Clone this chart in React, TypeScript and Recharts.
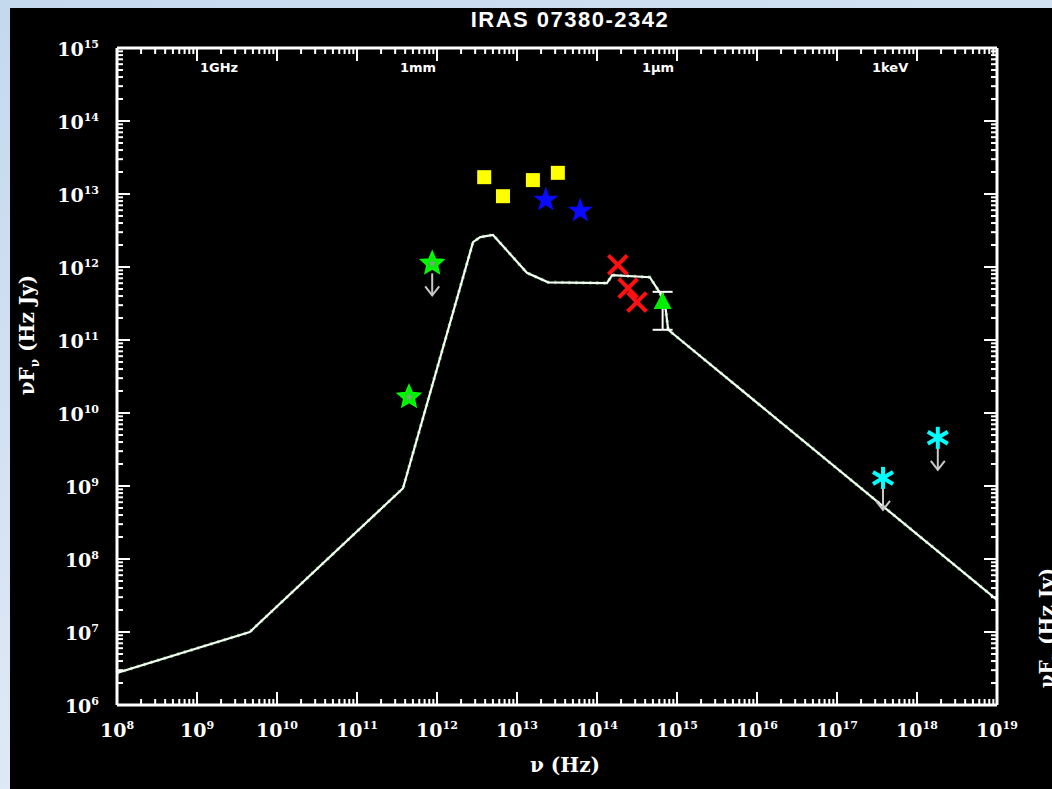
import React from "react";
import { ComposedChart, Line, Scatter, XAxis, YAxis, ErrorBar } from "recharts";

// model SED, νFν (Hz Jy) against ν (Hz)
const modelNu = [1e8, 4.57e9, 3.76e11, 2.82e12, 3.47e12, 5.01e12, 1.33e13, 2.45e13, 1.33e14, 1.55e14, 4.57e14, 6.17e14, 7.24e14, 7.76e14, 1e19];
const modelFlux = [2.75e6, 1.0e7, 9.33e8, 2.19e12, 2.57e12, 2.75e12, 8.32e11, 6.17e11, 6.03e11, 7.76e11, 7.24e11, 4.37e11, 2.57e11, 1.38e11, 2.75e7];

// photometry
const farIrNu = [3.89e12, 6.68e12, 1.58e13, 3.24e13];
const farIrFlux = [1.7e13, 9.33e12, 1.55e13, 1.95e13];

const midIrNu = [2.29e13, 6.17e13];
const midIrFlux = [8.32e12, 5.89e12];

const radioNu = [8.71e11, 4.47e11];
const radioFlux = [1.12e12, 1.66e10];
const radioLimit = [true, false];

const nearIrNu = [1.82e14, 2.45e14, 3.16e14];
const nearIrFlux = [1.07e12, 5.13e11, 3.31e11];

const opticalNu = [6.61e14];
const opticalFlux = [3.31e11];
const opticalErr = [[1.93e11, 1.26e11]];

const xrayNu = [3.76e17, 1.82e18];
const xrayFlux = [1.29e9, 4.57e9];
const xrayLimit = [true, true];

// axis decades (exponents)
const nuDecades = [8, 9, 10, 11, 12, 13, 14, 15, 16, 17, 18, 19];
const fluxDecades = [6, 7, 8, 9, 10, 11, 12, 13, 14, 15];

// top-axis reference marks
const topMarks = [
  { label: "1GHz", x: 200 },
  { label: "1mm", x: 400 },
  { label: "1μm", x: 642 },
  { label: "1keV", x: 872 },
];

const modelData = modelNu.map((nu, i) => ({ nu, flux: modelFlux[i] }));
const farIrData = farIrNu.map((nu, i) => ({ nu, flux: farIrFlux[i] }));
const midIrData = midIrNu.map((nu, i) => ({ nu, flux: midIrFlux[i] }));
const radioData = radioNu.map((nu, i) => ({ nu, flux: radioFlux[i], limit: radioLimit[i] }));
const nearIrData = nearIrNu.map((nu, i) => ({ nu, flux: nearIrFlux[i] }));
const opticalData = opticalNu.map((nu, i) => ({ nu, flux: opticalFlux[i], err: opticalErr[i] }));
const xrayData = xrayNu.map((nu, i) => ({ nu, flux: xrayFlux[i], limit: xrayLimit[i] }));

const withMinor = (decades: number[]) => {
  const out: number[] = [];
  decades.forEach((d, i) => {
    out.push(Math.pow(10, d));
    if (i < decades.length - 1) {
      for (let m = 2; m <= 9; m++) out.push(m * Math.pow(10, d));
    }
  });
  return out;
};
const nuTicks = withMinor(nuDecades);
const fluxTicks = withMinor(fluxDecades);

const exponentOf = (v: number) => {
  const l = Math.log10(v);
  const r = Math.round(l);
  return Math.abs(l - r) < 1e-6 ? r : null;
};

const W = 1052;
const H = 789;
const LABEL_FONT = "'DejaVu Serif', serif";
const MAJOR = 13;
const MINOR = 6;

const BottomTick = (props: any) => {
  const { x, y, payload } = props;
  const e = exponentOf(payload.value);
  return (
    <g>
      <line x1={x} y1={y} x2={x} y2={y - (e !== null ? MAJOR : MINOR)} stroke="#fff" strokeWidth={2} />
      {e !== null && (
        <text x={x} y={y + 32} textAnchor="middle" fill="#fff" fontFamily={LABEL_FONT} fontWeight="bold" fontSize={19}>
          10<tspan dy={-8} fontSize={11}>{e}</tspan>
        </text>
      )}
    </g>
  );
};

const TopTick = (props: any) => {
  const { x, y, payload } = props;
  const e = exponentOf(payload.value);
  return <line x1={x} y1={y} x2={x} y2={y + (e !== null ? MAJOR : MINOR)} stroke="#fff" strokeWidth={2} />;
};

const LeftTick = (props: any) => {
  const { x, y, payload } = props;
  const e = exponentOf(payload.value);
  return (
    <g>
      <line x1={x} y1={y} x2={x + (e !== null ? MAJOR : MINOR)} y2={y} stroke="#fff" strokeWidth={2} />
      {e !== null && (
        <text x={x - 18} y={y + 8} textAnchor="end" fill="#fff" fontFamily={LABEL_FONT} fontWeight="bold" fontSize={19}>
          10<tspan dy={-8} fontSize={11}>{e}</tspan>
        </text>
      )}
    </g>
  );
};

const RightTick = (props: any) => {
  const { x, y, payload } = props;
  const e = exponentOf(payload.value);
  return <line x1={x} y1={y} x2={x - (e !== null ? MAJOR : MINOR)} y2={y} stroke="#fff" strokeWidth={2} />;
};

const starPath = (cx: number, cy: number, ro: number, ri: number) => {
  let d = "";
  for (let k = 0; k < 10; k++) {
    const r = k % 2 === 0 ? ro : ri;
    const a = -Math.PI / 2 + (k * Math.PI) / 5;
    d += `${k === 0 ? "M" : "L"}${cx + r * Math.cos(a)},${cy + r * Math.sin(a)}`;
  }
  return d + "Z";
};

const LimitArrow = ({ cx, cy }: { cx: number; cy: number }) => (
  <g stroke="#c8c8c8" strokeWidth={2} fill="none">
    <line x1={cx} y1={cy + 10} x2={cx} y2={cy + 32} />
    <polyline points={`${cx - 7},${cy + 23} ${cx},${cy + 32} ${cx + 7},${cy + 23}`} />
  </g>
);

const SquareShape = (p: any) => <rect x={p.cx - 7} y={p.cy - 7} width={14} height={14} fill="#ffff00" />;

const BlueStar = (p: any) => (
  <path d={starPath(p.cx, p.cy, 11, 4.5)} fill="#0a0aff" stroke="#0a0aff" strokeWidth={1.5} />
);

const GreenStar = (p: any) => (
  <g>
    {p.payload.limit && <LimitArrow cx={p.cx} cy={p.cy} />}
    <path d={starPath(p.cx, p.cy, 12, 5.5)} fill="#00ee00" stroke="#00ff00" strokeWidth={1.5} />
    <path d={starPath(p.cx, p.cy, 4, 1.8)} fill="#7aa87a" />
  </g>
);

const RedCross = (p: any) => (
  <g stroke="#ff1010" strokeWidth={4} strokeLinecap="square">
    <line x1={p.cx - 8} y1={p.cy - 8} x2={p.cx + 8} y2={p.cy + 8} />
    <line x1={p.cx - 8} y1={p.cy + 8} x2={p.cx + 8} y2={p.cy - 8} />
  </g>
);

const GreenTriangle = (p: any) => (
  <path d={`M${p.cx},${p.cy - 10} L${p.cx + 9},${p.cy + 7} L${p.cx - 9},${p.cy + 7} Z`} fill="#00ee00" />
);

const CyanAsterisk = (p: any) => (
  <g>
    {p.payload.limit && <LimitArrow cx={p.cx} cy={p.cy} />}
    <g stroke="#00ffff" strokeWidth={4}>
      <line x1={p.cx} y1={p.cy - 11} x2={p.cx} y2={p.cy + 11} />
      <line x1={p.cx - 10} y1={p.cy - 6} x2={p.cx + 10} y2={p.cy + 6} />
      <line x1={p.cx - 10} y1={p.cy + 6} x2={p.cx + 10} y2={p.cy - 6} />
    </g>
  </g>
);

export default function App() {
  return (
    <div style={{ position: "absolute", left: 0, top: 0, width: W, height: H, background: "#000", overflow: "hidden" }}>
      <ComposedChart width={W} height={H} margin={{ top: 28, right: 35, bottom: 54, left: 57 }}>
        <XAxis
          xAxisId="bottom"
          dataKey="nu"
          type="number"
          scale="log"
          domain={[1e8, 1e19]}
          allowDataOverflow
          ticks={nuTicks}
          interval={0}
          height={30}
          tickSize={0}
          tickMargin={0}
          tick={<BottomTick />}
          axisLine={{ stroke: "#fff", strokeWidth: 3 }}
        />
        <XAxis
          xAxisId="top"
          orientation="top"
          dataKey="nu"
          type="number"
          scale="log"
          domain={[1e8, 1e19]}
          allowDataOverflow
          ticks={nuTicks}
          interval={0}
          height={20}
          tickSize={0}
          tickMargin={0}
          tick={<TopTick />}
          axisLine={{ stroke: "#fff", strokeWidth: 3 }}
        />
        <YAxis
          yAxisId="left"
          dataKey="flux"
          type="number"
          scale="log"
          domain={[1e6, 1e15]}
          allowDataOverflow
          ticks={fluxTicks}
          interval={0}
          width={60}
          tickSize={0}
          tickMargin={0}
          tick={<LeftTick />}
          axisLine={{ stroke: "#fff", strokeWidth: 3 }}
        />
        <YAxis
          yAxisId="right"
          orientation="right"
          dataKey="flux"
          type="number"
          scale="log"
          domain={[1e6, 1e15]}
          allowDataOverflow
          ticks={fluxTicks}
          interval={0}
          width={20}
          tickSize={0}
          tickMargin={0}
          tick={<RightTick />}
          axisLine={{ stroke: "#fff", strokeWidth: 3 }}
        />

        <Line xAxisId="bottom" yAxisId="left" data={modelData} dataKey="flux" type="linear" dot={false}
          stroke="#3c8c3c" strokeWidth={3.6} strokeDasharray="2 5" isAnimationActive={false} />
        <Line xAxisId="bottom" yAxisId="left" data={modelData} dataKey="flux" type="linear" dot={false}
          stroke="#f4fff4" strokeWidth={2.2} isAnimationActive={false} />

        <Scatter xAxisId="bottom" yAxisId="left" data={farIrData} dataKey="flux" shape={SquareShape} isAnimationActive={false} />
        <Scatter xAxisId="bottom" yAxisId="left" data={midIrData} dataKey="flux" shape={BlueStar} isAnimationActive={false} />
        <Scatter xAxisId="bottom" yAxisId="left" data={radioData} dataKey="flux" shape={GreenStar} isAnimationActive={false} />
        <Scatter xAxisId="bottom" yAxisId="left" data={nearIrData} dataKey="flux" shape={RedCross} isAnimationActive={false} />
        <Scatter xAxisId="bottom" yAxisId="left" data={opticalData} dataKey="flux" shape={GreenTriangle} isAnimationActive={false}>
          <ErrorBar dataKey="err" direction="y" width={10} stroke="#fff" strokeWidth={2} />
        </Scatter>
        <Scatter xAxisId="bottom" yAxisId="left" data={xrayData} dataKey="flux" shape={CyanAsterisk} isAnimationActive={false} />
      </ComposedChart>

      <svg width={W} height={H} style={{ position: "absolute", left: 0, top: 0, pointerEvents: "none" }}>
        <text x={570} y={27} textAnchor="middle" fill="#fff" fontFamily="'Liberation Sans', sans-serif"
          fontWeight="bold" fontSize={22} letterSpacing={1.5}>
          IRAS 07380-2342
        </text>
        {topMarks.map((m) => (
          <text key={m.label} x={m.x} y={72} fill="#fff" fontFamily="'DejaVu Sans', sans-serif" fontWeight="bold" fontSize={13}>
            {m.label}
          </text>
        ))}
        <text x={565} y={772} textAnchor="middle" fill="#fff" fontFamily={LABEL_FONT} fontWeight="bold" fontSize={20}>
          ν (Hz)
        </text>
        <text transform="translate(34 335) rotate(-90)" textAnchor="middle" fill="#fff" fontFamily={LABEL_FONT} fontWeight="bold" fontSize={20}>
          νF<tspan dy={5} fontSize={12}>ν</tspan><tspan dy={-5}> (Hz Jy)</tspan>
        </text>
        <text transform="translate(1054 628) rotate(-90)" textAnchor="middle" fill="#fff" fontFamily={LABEL_FONT} fontWeight="bold" fontSize={20}>
          νF<tspan dy={5} fontSize={12}>ν</tspan><tspan dy={-5}> (Hz Jy)</tspan>
        </text>
      </svg>

      <div style={{ position: "absolute", left: 0, top: 0, width: W, height: 8, background: "linear-gradient(90deg, #c4d8ee, #d3e2f3)" }} />
      <div style={{ position: "absolute", left: 0, top: 0, width: 10, height: H, background: "linear-gradient(180deg, #c4d8ee, #dfe9f5)" }} />
    </div>
  );
}
